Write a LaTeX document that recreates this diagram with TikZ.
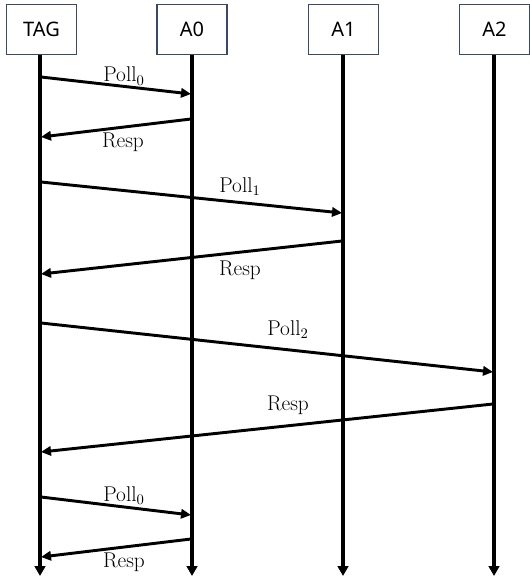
\documentclass[tikz,border=0pt]{standalone}
\usepackage{fontspec}
\newfontfamily\boxfont{Noto Sans}
\usetikzlibrary{arrows.meta}
\definecolor{boxline}{RGB}{58,74,100}
\tikzset{
  entity/.style={draw=boxline, line width=0.8pt, fill=white, inner sep=0pt,
    minimum width=52.5pt, minimum height=38pt, font=\boxfont\fontsize{15}{18}\selectfont},
  lifeline/.style={line width=2.6pt, -{Triangle[length=7.5pt,width=8pt]}},
  msg/.style={line width=2.2pt, -{Triangle[length=7.5pt,width=7pt]}},
  msglabel/.style={anchor=base, inner sep=0pt, font=\fontsize{16}{19}\selectfont}
}
\begin{document}
\begin{tikzpicture}[x=0.75pt,y=0.75pt,yscale=-1,xscale=1]
\useasboundingbox (0,0) rectangle (529,577);

%Shape: Rectangle
\node[entity] (tag) at (41.5,29.5) {TAG};
%Shape: Rectangle
\node[entity] (a0) at (192,29.5) {A0};
%Shape: Rectangle
\node[entity] (a1) at (343.5,29.5) {A1};
%Shape: Rectangle
\node[entity] (a2) at (494.5,29.5) {A2};

% lifeline ends
\coordinate (tagend) at (40,576);
\coordinate (a0end) at (192,576);
\coordinate (a1end) at (343,576);
\coordinate (a2end) at (494,576);

%Straight Lines
\draw[lifeline] (tag.south -| tagend) -- (tagend);
\draw[lifeline] (a0.south -| a0end) -- (a0end);
\draw[lifeline] (a1.south -| a1end) -- (a1end);
\draw[lifeline] (a2.south -| a2end) -- (a2end);

% message end points
\coordinate (m1a) at (41,77);   \coordinate (m1b) at (191,94);
\coordinate (m2a) at (191,119); \coordinate (m2b) at (41,137);
\coordinate (m3a) at (41,182);  \coordinate (m3b) at (342,213);
\coordinate (m4a) at (342,241); \coordinate (m4b) at (41,274);
\coordinate (m5a) at (41,323);  \coordinate (m5b) at (493,372);
\coordinate (m6a) at (493,404); \coordinate (m6b) at (41,452);
\coordinate (m7a) at (41,497);  \coordinate (m7b) at (191,515);
\coordinate (m8a) at (191,539); \coordinate (m8b) at (41,557);

%Straight Lines
\draw[msg] (m1a) -- (m1b);
\draw[msg] (m2a) -- (m2b);
\draw[msg] (m3a) -- (m3b);
\draw[msg] (m4a) -- (m4b);
\draw[msg] (m5a) -- (m5b);
\draw[msg] (m6a) -- (m6b);
\draw[msg] (m7a) -- (m7b);
\draw[msg] (m8a) -- (m8b);

% Text Node
\node[msglabel] (l1) at (124,82) {Poll$_0$};
% Text Node
\node[msglabel] (l2) at (123,148) {Resp};
% Text Node
\node[msglabel] (l3) at (240,192) {Poll$_1$};
% Text Node
\node[msglabel] (l4) at (240,275) {Resp};
% Text Node
\node[msglabel] (l5) at (288,335) {Poll$_2$};
% Text Node
\node[msglabel] (l6) at (288,410) {Resp};
% Text Node
\node[msglabel] (l7) at (124,501) {Poll$_0$};
% Text Node
\node[msglabel] (l8) at (124,567) {Resp};
\end{tikzpicture}
\end{document}
